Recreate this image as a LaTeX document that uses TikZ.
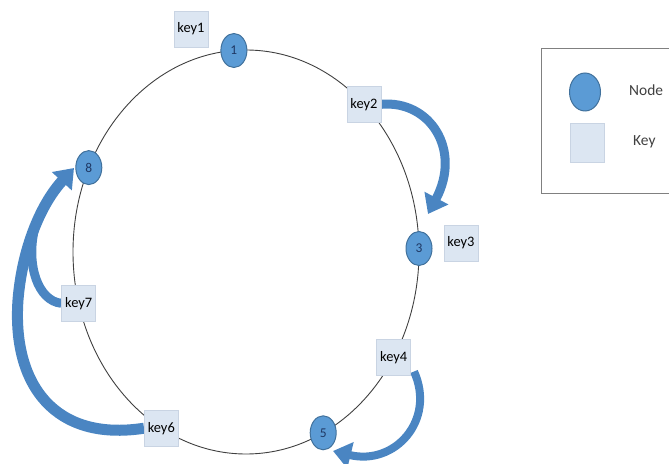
\documentclass[tikz,border=0pt]{standalone}
\usepackage{fontspec}
\setmainfont{Carlito}
\usetikzlibrary{shapes.geometric,arrows.meta,backgrounds}
\definecolor{nodefill}{HTML}{5B9BD5}
\definecolor{nodeline}{HTML}{41719C}
\definecolor{nodetext}{HTML}{1F3864}
\definecolor{keyfill}{HTML}{DCE6F2}
\definecolor{keyline}{HTML}{C9D4E3}
\definecolor{ringcol}{HTML}{404040}
\definecolor{arrowcol}{HTML}{4A85C2}
\definecolor{legline}{HTML}{808080}
\definecolor{legtext}{HTML}{404040}
\begin{document}
\begin{tikzpicture}[x=1bp,y=-1bp,
  ringnode/.style={ellipse, fill=nodefill, draw=nodeline, line width=1bp,
    minimum width=26bp, minimum height=34bp, inner sep=0pt, text=nodetext,
    font=\fontsize{13.5}{14}\selectfont},
  keybox/.style={rectangle, fill=keyfill, draw=keyline, line width=0.6bp,
    minimum width=34bp, minimum height=36bp, inner sep=0pt, text=black,
    font=\fontsize{14.5}{15}\selectfont},
  ring/.style={draw=ringcol, line width=0.9bp},
  bigarrow/.style={draw=arrowcol, line cap=butt},
  bighead/.style={-{Triangle[width=26bp,length=18bp]}},
  legendframe/.style={draw=legline, line width=0.8bp},
  legendlabel/.style={text=legtext, font=\fontsize{15.5}{16}\selectfont, anchor=west, inner sep=0pt}]

\useasboundingbox (0,0) rectangle (669,464);

% ring
\draw[ring] (246,252) ellipse [x radius=173, y radius=202];

% positions on the ring
\coordinate (p1) at (233.9,50.5);
\coordinate (pk2) at (364.0,104.3);
\coordinate (p3) at (419.0,248.5);
\coordinate (pk4) at (393.7,357.2);
\coordinate (p5) at (323.2,432.8);
\coordinate (pk6) at (161.3,428.2);
\coordinate (pk7) at (78.7,303.3);
\coordinate (p8) at (88.8,167.6);

% key boxes and nodes
\node[keybox] (k1) at (191,29) {key1};
\node[keybox] (k2) at (pk2) {key2};
\node[keybox] (k3) at (461,243) {key3};
\node[keybox] (k4) at (pk4) {key4};
\node[keybox] (k6) at (pk6) {key6};
\node[keybox] (k7) at (pk7) {key7};

\node[ringnode] (n1) at (p1) {1};
\node[ringnode] (n3) at (p3) {3};
\node[ringnode] (n5) at (p5) {5};
\node[ringnode] (n8) at (p8) {8};

% arrow end points
\coordinate (a3) at (428,214);
\coordinate (b5) at (333,451);
\coordinate (h8) at (74,168);
\coordinate (dmid) at (34.5,229);

% curved arrows, under the boxes
\begin{scope}[on background layer]
\draw[bigarrow, bighead, line width=9bp] (k2.east) .. controls (430,100) and (462,150) .. (a3);
\draw[bigarrow, bighead, line width=8bp] ([xshift=3bp,yshift=4bp]k4.south east) .. controls (436,420) and (395,466) .. (b5);
\draw[bigarrow, line width=9bp] (k7.west) .. controls (38,301) and (26,265) .. (dmid);
\draw[bigarrow, bighead, line width=11bp] (k6.west) .. controls (55,442) and (12,385) .. (18,300) .. controls (22,250) and (40,205) .. (h8);
\end{scope}

% legend
\draw[legendframe] (672,48) -- (541,48) -- (541,193) -- (672,193);
\node[ringnode, minimum width=31bp, minimum height=38bp] (legnode) at (585,92) {};
\node[keybox, minimum width=34bp, minimum height=39bp] (legkey) at (587,143) {};
\node[legendlabel] (legnodetext) at (629,90) {Node};
\node[legendlabel] (legkeytext) at (633,142) {Key};
\end{tikzpicture}
\end{document}
